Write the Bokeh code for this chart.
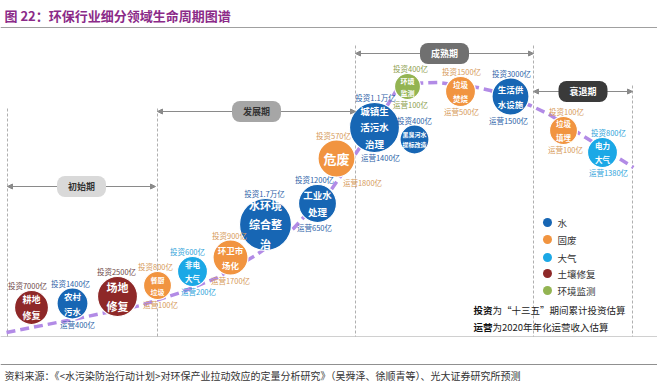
from bokeh.plotting import figure
from bokeh.models import Range1d, Label, Arrow, NormalHead, ColumnDataSource
from bokeh.core.properties import value
from bokeh.embed import file_html
from bokeh.resources import INLINE

FONT = "Noto Sans CJK SC"

# ---------------- data ----------------
title_text = "图 22：环保行业细分领域生命周期图谱"
source_text = "资料来源：《<水污染防治行动计划>对环保产业拉动效应的定量分析研究》（吴舜泽、徐顺青等）、光大证券研究所预测"
phases = ["初始期", "发展期", "成熟期", "衰退期"]
categories = ["水", "固废", "大气", "土壤修复", "环境监测"]

segments = ["耕地\n修复", "农村\n污水", "场地\n修复", "餐厨\n垃圾", "非电\n大气", "环卫市\n场化",
            "水环境\n综合整\n治", "工业水\n处理", "危废", "城镇生\n活污水\n治理", "黑臭河水\n提标改造",
            "环境\n监测", "垃圾\n焚烧", "生活供\n水设施", "垃圾\n填埋", "电力\n大气"]
segment_cat = ["土壤修复", "水", "土壤修复", "固废", "大气", "固废", "水", "水", "固废", "水", "水",
               "环境监测", "固废", "水", "固废", "大气"]
invest = ["投资7000亿", "投资1400亿", "投资2500亿", "投资800亿", "投资600亿", "投资900亿", "投资1.7万亿",
          "投资1200亿", "投资570亿", "投资1.1万亿", "投资400亿", "投资400亿", "投资1500亿", "投资3000亿",
          "投资100亿", "投资800亿"]
operate = ["", "运营400亿", "", "运营100亿", "运营200亿", "运营1700亿", "", "运营650亿", "运营1800亿",
           "运营1400亿", "", "运营100亿", "运营500亿", "运营1500亿", "运营100亿", "运营1380亿"]
note1_bold = "投资"
note1_rest = "为“十三五”期间累计投资估算"
note2_bold = "运营"
note2_rest = "为2020年年化运营收入估算"

# trend path (life-cycle curve)
trend_x = [6, 77, 140, 180, 217, 255, 293, 303, 328, 342, 382, 400, 437, 477, 490, 530, 547, 633]
trend_y = [332, 318, 305, 292, 277, 255, 228, 217, 193, 173, 113, 83, 82, 87, 90, 105, 113, 167]

# ---------------- layout / style ----------------
cx = [31, 72, 117, 157, 192, 230, 265, 317, 336, 374, 414, 407, 460, 510, 563, 602]
cy = [307, 303, 296, 285, 271, 257, 224, 203, 158, 127, 139, 86, 91, 96, 130, 152]
rad = [17, 15.5, 20, 14, 15, 17.5, 26, 19, 18.5, 25, 14.5, 13, 15, 18.5, 14, 15]
fs = [9, 8.5, 11, 7, 7.5, 8.5, 11, 9.5, 13, 9.5, 6, 7, 7.5, 8.5, 7.5, 7.5]
inv_dx = [-4, -2, -1, -2, -5, -1, -1, -3, -3, 1, 0, 3, 1, 1, 3, 6]
op_dx = [0, 5, 0, 3, 6, 0, 0, -3, 26, 6, 0, 3, 1, -2, 2, 6]

cat_fill = {"水": "#1766B4", "固废": "#F19440", "大气": "#1BA8E6", "土壤修复": "#8E2828", "环境监测": "#93B452"}
cat_label = {"水": "#2D5FA8", "固废": "#D69A5A", "大气": "#2FA3DA", "土壤修复": "#6E4848", "环境监测": "#8C9E4E"}

phase_x0 = [7, 157, 355, 533]
phase_x1 = [155, 355, 533, 632]
phase_y = [186, 111, 53, 91]
phase_fill = ["#D9D9D9", "#A6A6A6", "#707070", "#3A3A3A"]
phase_txt = ["#333333", "#333333", "#FFFFFF", "#FFFFFF"]
dash_x = [7, 157, 355, 533, 632]
dash_top = [108, 108, 45, 45, 85]
chart_bottom = 336

p = figure(width=657, height=384, x_range=Range1d(0, 657), y_range=Range1d(384, 0),
           output_backend="svg", toolbar_location=None, min_border=0,
           x_axis_location=None, y_axis_location=None)
p.grid.grid_line_color = None
p.outline_line_color = None
p.background_fill_color = "white"

# title + rules
p.text(x=[4], y=[15], text=[title_text], text_font=value(FONT), text_font_size="13px",
       text_font_style="bold", text_color="#8B2A88", text_baseline="middle")
p.segment(x0=[0], y0=[27], x1=[657], y1=[27], line_color="#A0A0A0", line_width=1)
p.segment(x0=[0], y0=[chart_bottom], x1=[657], y1=[chart_bottom], line_color="#D0D0D0", line_width=1)
p.segment(x0=[0], y0=[364], x1=[657], y1=[364], line_color="#909090", line_width=1)
p.text(x=[4], y=[375], text=[source_text], text_font=value(FONT), text_font_size="10px",
       text_color="#333333", text_baseline="middle")

# vertical dashed separators
p.segment(x0=dash_x, y0=dash_top, x1=dash_x, y1=[chart_bottom] * len(dash_x),
          line_color="#B0B0B0", line_width=1, line_dash="3 2")

# phase arrows + labels
for i, ph in enumerate(phases):
    p.add_layout(Arrow(start=NormalHead(size=5, fill_color="#8A8A8A", line_color="#8A8A8A"),
                       end=NormalHead(size=5, fill_color="#8A8A8A", line_color="#8A8A8A"),
                       x_start=phase_x0[i], y_start=phase_y[i], x_end=phase_x1[i], y_end=phase_y[i],
                       line_color="#8A8A8A", line_width=1.2))
    p.add_layout(Label(x=(phase_x0[i] + phase_x1[i]) / 2, y=phase_y[i], text=ph,
                       text_font=FONT, text_font_size="9px", text_font_style="bold",
                       text_color=phase_txt[i], text_align="center", text_baseline="middle",
                       background_fill_color=phase_fill[i], border_radius=8,
                       padding=(11, 4), border_line_color=None))

# trend curve
p.line(trend_x, trend_y, line_color="#B28BE6", line_width=3.5, line_dash="9 5")

# bubbles
src = ColumnDataSource(dict(
    x=cx, y=cy, size=[2 * r for r in rad], name=segments,
    fill=[cat_fill[c] for c in segment_cat], lab=[cat_label[c] for c in segment_cat],
    fs=[f"{f}px" for f in fs],
    inv=invest, ix=[a + b for a, b in zip(cx, inv_dx)], iy=[c - r - 5 for c, r in zip(cy, rad)],
    op=operate, ox=[a + b for a, b in zip(cx, op_dx)], oy=[c + r + 5 for c, r in zip(cy, rad)],
))
p.scatter("x", "y", size="size", fill_color="fill", line_color="white", line_width=1.2, source=src)
p.text("x", "y", text="name", text_font=value(FONT), text_font_size="fs", text_font_style="bold",
       text_color="white", text_align="center", text_baseline="middle", text_line_height=1.2, source=src)
p.text("ix", "iy", text="inv", text_font=value(FONT), text_font_size="7.5px", text_color="lab",
       text_align="center", text_baseline="middle", source=src)
p.text("ox", "oy", text="op", text_font=value(FONT), text_font_size="7.5px", text_color="lab",
       text_align="center", text_baseline="middle", source=src)

# legend
leg_y = [222, 239, 257, 273, 290]
p.scatter(x=[547] * 5, y=leg_y, size=9, fill_color=[cat_fill[c] for c in categories], line_color=None)
p.text(x=[557] * 5, y=leg_y, text=categories, text_font=value(FONT), text_font_size="9.5px",
       text_color="#333333", text_baseline="middle")

# notes
p.text(x=[473, 473], y=[309, 326], text=[note1_bold, note2_bold], text_font=value(FONT),
       text_font_size="9.5px", text_font_style="bold", text_color="#111111", text_baseline="middle")
p.text(x=[492, 492], y=[309, 326], text=[note1_rest, note2_rest], text_font=value(FONT),
       text_font_size="9.5px", text_color="#222222", text_baseline="middle")

open("out.html", "w").write(file_html(p, INLINE))
